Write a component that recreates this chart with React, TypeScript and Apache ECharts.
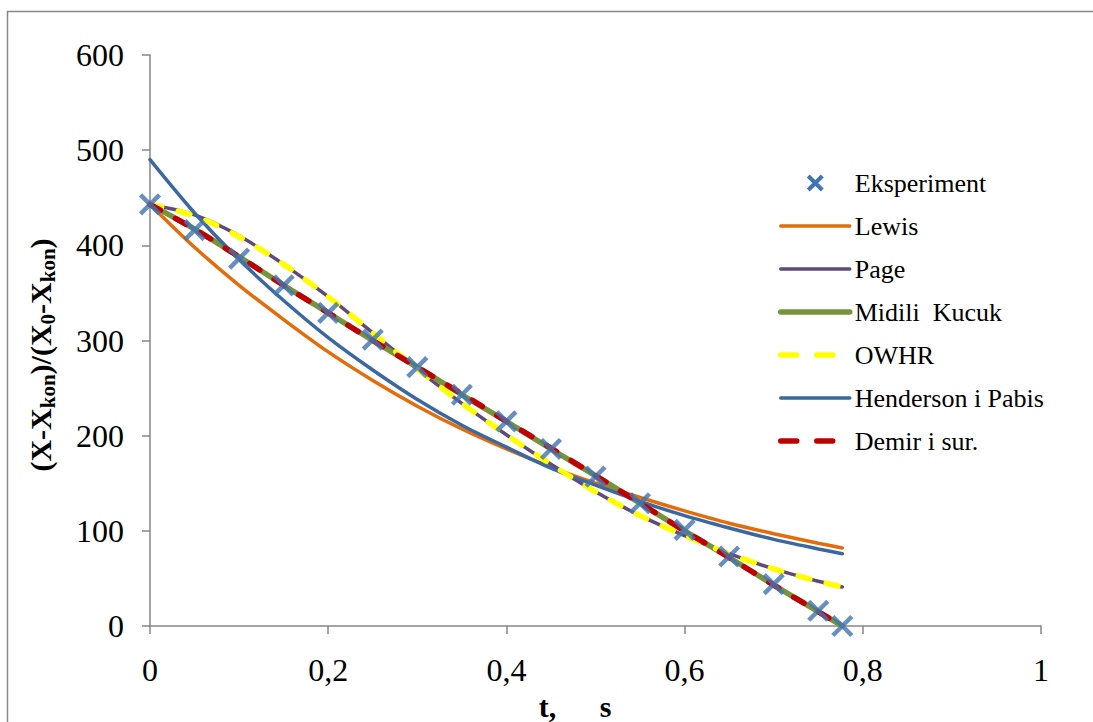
import React, { useEffect, useRef } from "react";
import * as echarts from "echarts";

const tValues = [0, 0.05, 0.1, 0.15, 0.2, 0.25, 0.3, 0.35, 0.4, 0.45, 0.5, 0.55, 0.6, 0.65, 0.7, 0.75, 0.777];
const eksperiment = [443, 416, 386, 358, 329, 301, 272, 243, 215, 186, 157, 129, 101, 73, 44, 16, 0];
const lewis = [443, 398, 358, 322, 288, 258, 231, 207, 186, 167, 150, 135, 121, 108, 97, 87, 82];
const page = [443, 432, 410, 380, 346, 308, 270, 234, 201, 170, 141, 116, 95, 76, 60, 47, 41];
const midiliKucuk = [443, 417, 388, 358, 329, 300, 272, 243, 215, 186, 158, 129, 100, 72, 43, 15, 0];
const owhr = [443, 431, 409, 380, 346, 308, 270, 234, 201, 170, 141, 116, 95, 76, 60, 47, 41];
const hendersonPabis = [490, 434, 385, 342, 303, 269, 238, 211, 188, 166, 148, 131, 116, 103, 91, 81, 76];
const demir = [443, 417, 388, 358, 329, 300, 272, 244, 215, 187, 158, 129, 100, 72, 43, 15, 0];

const legendNames = ["Eksperiment", "Lewis", "Page", "Midili  Kucuk", "OWHR", "Henderson i Pabis", "Demir i sur."];

const FONT = "'Liberation Serif', 'Times New Roman', serif";
const CROSS_COLOR = "#4174B2";

const pairs = (arr: number[]) => tValues.map((t, i) => [t, arr[i]]);

export default function App() {
  const ref = useRef<HTMLDivElement>(null);
  useEffect(() => {
    if (!ref.current) return;
    const chart = echarts.init(ref.current, undefined, { renderer: "svg" });
    const lineSeries = (name: string, data: number[], color: string, width: number, type: any = "solid", z = 2) => ({
      name,
      type: "line",
      data: pairs(data),
      smooth: 0.3,
      showSymbol: false,
      symbol: "none",
      z,
      lineStyle: { color, width, type, cap: "round" },
      itemStyle: { color },
    });
    const dashedLegend = { width: 5.5, type: [16, 20], cap: "round" };
    chart.setOption({
      animation: false,
      backgroundColor: "#ffffff",
      textStyle: { fontFamily: FONT },
      grid: { left: 150, right: 52, top: 55, bottom: 96 },
      graphic: [
        {
          type: "rect",
          shape: { x: 7.5, y: 11.5, width: 1100, height: 730 },
          style: { fill: "none", stroke: "#878787", lineWidth: 1.5 },
          silent: true,
        },
        {
          type: "text",
          x: 40,
          y: 355,
          rotation: Math.PI / 2,
          style: {
            text: "{b|(X-X}{s|kon}{b|)/(X}{s|0}{b|-X}{s|kon}{b|)}",
            align: "center",
            verticalAlign: "middle",
            fill: "#000",
            rich: {
              b: { fontSize: 30, fontWeight: "bold", fontFamily: FONT, lineHeight: 36, fill: "#000" },
              s: { fontSize: 21, fontWeight: "bold", fontFamily: FONT, lineHeight: 22, verticalAlign: "bottom", fill: "#000" },
            },
          },
        },
        {
          type: "text",
          x: 575,
          y: 706,
          style: {
            text: "{a|t, }{b|s}",
            align: "center",
            verticalAlign: "middle",
            fill: "#000",
            rich: {
              a: { fontSize: 30, fontWeight: "bold", fontFamily: FONT, fill: "#000" },
              b: { fontSize: 30, fontWeight: "bold", fontFamily: FONT, fill: "#000", padding: [0, 0, 0, 36] },
            },
          },
        },
      ],
      legend: {
        orient: "vertical",
        left: 778,
        top: 168,
        padding: 0,
        itemWidth: 69,
        itemHeight: 14,
        itemGap: 13,
        itemStyle: { opacity: 0 },
        lineStyle: { width: "inherit" },
        data: [
          { name: legendNames[0], itemStyle: { opacity: 1, color: "rgba(0,0,0,0)", borderColor: CROSS_COLOR, borderWidth: 4 } },
          { name: legendNames[1] },
          { name: legendNames[2] },
          { name: legendNames[3] },
          { name: legendNames[4], lineStyle: dashedLegend },
          { name: legendNames[5] },
          { name: legendNames[6], lineStyle: dashedLegend },
        ],
        textStyle: { fontSize: 26, fontFamily: FONT, color: "#000", lineHeight: 30 },
      },
      xAxis: {
        type: "value",
        min: 0,
        max: 1,
        interval: 0.2,
        splitLine: { show: false },
        axisLine: { onZero: false, lineStyle: { color: "#868686", width: 1.5 } },
        axisTick: { show: true, inside: false, length: 8, lineStyle: { color: "#868686", width: 1.5 } },
        axisLabel: {
          margin: 28,
          fontSize: 32,
          fontFamily: FONT,
          color: "#000",
          formatter: (v: number) => String(Math.round(v * 10) / 10).replace(".", ","),
        },
      },
      yAxis: {
        type: "value",
        min: 0,
        max: 600,
        interval: 100,
        splitLine: { show: false },
        axisLine: { show: true, lineStyle: { color: "#868686", width: 1.5 } },
        axisTick: { show: true, inside: false, length: 8, lineStyle: { color: "#868686", width: 1.5 } },
        axisLabel: { margin: 26, fontSize: 32, fontFamily: FONT, color: "#000" },
      },
      series: [
        lineSeries("Lewis", lewis, "#E46C0A", 3.5),
        lineSeries("Page", page, "#604A7B", 3.5),
        lineSeries("Midili  Kucuk", midiliKucuk, "#77933C", 5.5),
        lineSeries("OWHR", owhr, "#FFFF00", 5.5, [12, 17], 3),
        lineSeries("Henderson i Pabis", hendersonPabis, "#3B68A0", 3.5),
        lineSeries("Demir i sur.", demir, "#C00000", 5.5, [12, 17], 3),
        {
          name: "Eksperiment",
          type: "scatter",
          data: pairs(eksperiment),
          symbol: "path://M0,0 L10,10 M10,0 L0,10",
          symbolSize: 19,
          z: 5,
          itemStyle: { color: "rgba(0,0,0,0)", borderColor: CROSS_COLOR, borderWidth: 4.5 },
        },
      ],
    });
    return () => chart.dispose();
  }, []);
  return <div ref={ref} style={{ position: "fixed", left: 0, top: 0, width: 1093, height: 722, background: "#fff" }} />;
}
